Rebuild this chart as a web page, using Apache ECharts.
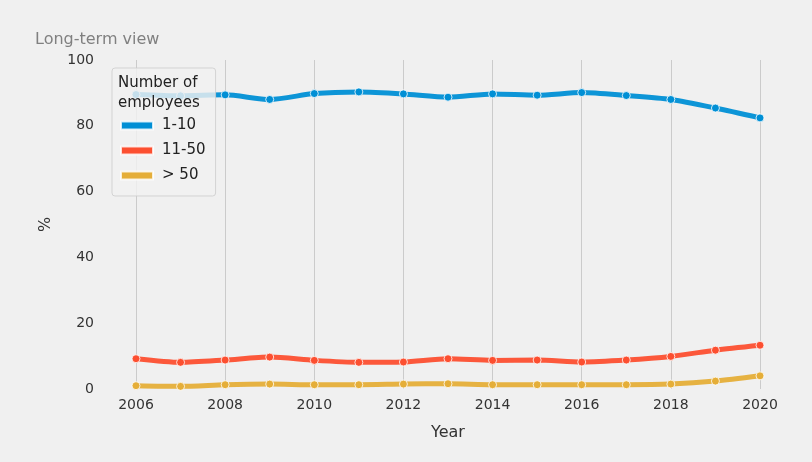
<!DOCTYPE html>
<html><head><meta charset="utf-8">
<script src="https://cdn.jsdelivr.net/npm/echarts@6/dist/echarts.min.js"></script>
<style>html,body{margin:0;padding:0;background:#f0f0f0}#c{width:812px;height:462px}</style>
</head><body><div id="c"></div>
<script>
const years = [2006,2007,2008,2009,2010,2011,2012,2013,2014,2015,2016,2017,2018,2019,2020];
const small = [89.5,89.1,89.4,88.0,89.8,90.3,89.7,88.7,89.7,89.3,90.1,89.2,88.0,85.4,82.4];
const medium = [9.2,8.1,8.8,9.7,8.7,8.1,8.2,9.2,8.7,8.8,8.2,8.8,9.9,11.8,13.3];
const large = [1.0,0.8,1.3,1.5,1.3,1.3,1.5,1.6,1.3,1.3,1.3,1.3,1.5,2.4,4.0];
const seriesNames = ['1-10','11-50','> 50'];
const colors = ['#008fd5','#fc4f30','#e5ae38'];
const yTicks = [0,20,40,60,80,100];

const FONT = 'DejaVu Sans';
const chart = echarts.init(document.getElementById('c'));
const mk = (name, vals, color) => ({
  name, type:'line', data: years.map((y,i)=>[y, vals[i]]),
  smooth: 0.25, symbol:'circle', symbolSize: 8,
  lineStyle:{width:5, color, opacity:0.95}, itemStyle:{color, borderColor:'rgba(255,255,255,0.8)', borderWidth:1},
  z: 2
});
chart.setOption({
  backgroundColor:'#f0f0f0',
  animation:false,
  grid:{left:136,right:52,top:60,bottom:73},
  xAxis:{type:'value',min:2006,max:2020,interval:2,
    name:'Year',nameLocation:'middle',nameGap:36,
    nameTextStyle:{fontFamily:FONT,fontSize:16,color:'#333'},
    axisLine:{show:false},axisTick:{show:false},
    axisLabel:{fontFamily:FONT,fontSize:14,color:'#333',margin:9,formatter:v=>String(v)},
    splitLine:{show:true,lineStyle:{color:'#cbcbcb',width:1}}},
  yAxis:{type:'value',min:0,max:100,interval:20,
    name:'%',nameLocation:'middle',nameGap:82,nameRotate:90,
    nameTextStyle:{fontFamily:FONT,fontSize:16,color:'#333'},
    axisLine:{show:false},axisTick:{show:false},
    axisLabel:{fontFamily:FONT,fontSize:14,color:'#333',margin:42,
      formatter:v=>yTicks.includes(v)?String(v):''},
    splitLine:{show:false}},
  legend:{orient:'vertical',left:112,top:68,
    padding:[50,10,13,8],itemGap:10,itemWidth:32,itemHeight:8,icon:'rect',
    backgroundColor:'rgba(240,240,240,0.82)',borderColor:'rgba(204,204,204,0.8)',borderWidth:1,borderRadius:3,
    textStyle:{fontFamily:FONT,fontSize:15,color:'#222',padding:[0,0,0,4]},
    data:seriesNames, z:10},
  graphic:[
    {type:'text',left:35,top:32,z:20,style:{text:'Long-term view',fontFamily:FONT,fontSize:16,fill:'#808080'}},
    {type:'text',left:118,top:73,z:20,style:{text:'Number of\nemployees',fontFamily:FONT,fontSize:15,lineHeight:20,fill:'#222'}}
  ],
  series:[mk(seriesNames[0],small,colors[0]),mk(seriesNames[1],medium,colors[1]),mk(seriesNames[2],large,colors[2])]
});
</script></body></html>
